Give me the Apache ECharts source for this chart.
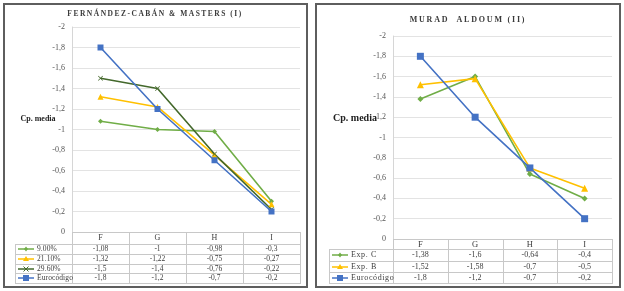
<!DOCTYPE html>
<html>
<head>
<meta charset="utf-8">
<script src="https://cdn.jsdelivr.net/npm/echarts@6/dist/echarts.min.js"></script>
<style>
  body { margin: 0; background: #fff; font-family: "Liberation Serif", serif; }
  #wrap { position: relative; width: 624px; height: 291px; overflow: hidden; }
  .frame { position: absolute; border: 2px solid #5e5e5e; box-sizing: border-box; }
  #chart { position: absolute; left: 0; top: 0; width: 624px; height: 291px; }
  .title { position: absolute; font-weight: bold; color: #3a3a3a; white-space: nowrap; transform: translateX(-50%); }
  .yname { position: absolute; font-weight: bold; color: #222; white-space: nowrap; transform: translate(-50%, -50%); }
  .hl, .vl { position: absolute; background: #c8c8c8; }
  .cell { position: absolute; color: #3c3c3c; text-align: center; white-space: nowrap; }
  .key { position: absolute; color: #3c3c3c; white-space: nowrap; }
  .key svg { position: absolute; left: 0; top: 50%; transform: translateY(-50%); }
</style>
</head>
<body>
<div id="wrap">
  <div class="frame" style="left:3px;top:3px;width:305px;height:285px"></div>
  <div class="frame" style="left:315px;top:3px;width:306px;height:285px"></div>
  <div id="chart"></div>
</div>
<script>
  // categories
  const categories = ['F', 'G', 'H', 'I']

  // left chart (I)
  const leftNames = ['9.00%', '21.10%', '29.60%', 'Eurocódigo']
  const left900 = [-1.08, -1, -0.98, -0.3]
  const left2110 = [-1.32, -1.22, -0.75, -0.27]
  const left2960 = [-1.5, -1.4, -0.76, -0.22]
  const leftEuro = [-1.8, -1.2, -0.7, -0.2]

  // right chart (II)
  const rightNames = ['Exp. C', 'Exp. B', 'Eurocódigo']
  const rightExpC = [-1.38, -1.6, -0.64, -0.4]
  const rightExpB = [-1.52, -1.58, -0.7, -0.5]
  const rightEuro = [-1.8, -1.2, -0.7, -0.2]

  const GREEN = '#70AD47'
  const YELLOW = '#FFC000'
  const DKGREEN = '#43682B'
  const BLUE = '#4472C4'
  const CROSS = 'path://M0,1L1,0L5,4L9,0L10,1L6,5L10,9L9,10L5,6L1,10L0,9L4,5Z'

  const leftSeries = [
    { name: leftNames[0], data: left900, color: GREEN, symbol: 'diamond', size: 5 },
    { name: leftNames[1], data: left2110, color: YELLOW, symbol: 'triangle', size: 6 },
    { name: leftNames[2], data: left2960, color: DKGREEN, symbol: CROSS, size: 5 },
    { name: leftNames[3], data: leftEuro, color: BLUE, symbol: 'rect', size: 6 }
  ]
  const rightSeries = [
    { name: rightNames[0], data: rightExpC, color: GREEN, symbol: 'diamond', size: 6 },
    { name: rightNames[1], data: rightExpB, color: YELLOW, symbol: 'triangle', size: 7 },
    { name: rightNames[2], data: rightEuro, color: BLUE, symbol: 'rect', size: 7 }
  ]

  const fmt = v => String(Math.round(v * 100) / 100).replace('.', ',')

  // plot areas (pixels)
  const L = { left: 72, top: 27, width: 228, height: 205 }
  const R = { left: 393, top: 36, width: 219, height: 203 }

  function yAxisOf(gridIndex) {
    return {
      type: 'value',
      gridIndex: gridIndex,
      inverse: true,
      min: -2,
      max: 0,
      interval: 0.2,
      axisLine: { show: true, lineStyle: { color: '#d6d6d6', width: 1 } },
      axisTick: { show: false },
      splitLine: { lineStyle: { color: '#e3e3e3', width: 1 } },
      axisLabel: {
        fontFamily: 'Liberation Serif',
        fontSize: 8,
        color: '#555',
        margin: 7,
        formatter: v => String(Math.round(v * 10) / 10).replace('.', ',')
      }
    }
  }

  function xAxisOf(gridIndex) {
    return {
      type: 'category',
      gridIndex: gridIndex,
      data: categories,
      boundaryGap: true,
      axisLine: { show: false },
      axisTick: { show: false },
      axisLabel: { show: false },
      splitLine: { show: false }
    }
  }

  function toSeries(s, idx) {
    return {
      name: s.name,
      type: 'line',
      xAxisIndex: idx,
      yAxisIndex: idx,
      data: s.data,
      symbol: s.symbol,
      symbolSize: s.size,
      showSymbol: true,
      animation: false,
      lineStyle: { color: s.color, width: 1.6 },
      itemStyle: { color: s.color }
    }
  }

  const chart = echarts.init(document.getElementById('chart'), null, { renderer: 'canvas' })
  chart.setOption({
    backgroundColor: 'transparent',
    grid: [
      { left: L.left, top: L.top, width: L.width, height: L.height },
      { left: R.left, top: R.top, width: R.width, height: R.height }
    ],
    xAxis: [xAxisOf(0), xAxisOf(1)],
    yAxis: [yAxisOf(0), yAxisOf(1)],
    series: leftSeries.map(s => toSeries(s, 0)).concat(rightSeries.map(s => toSeries(s, 1)))
  })

  // ---- html overlays: titles, axis names, data tables ----
  const wrap = document.getElementById('wrap')

  function add(cls, css, html) {
    const d = document.createElement('div')
    d.className = cls
    Object.assign(d.style, css)
    if (html !== undefined) d.innerHTML = html
    wrap.appendChild(d)
    return d
  }

  add('title', { left: '155px', top: '9px', fontSize: '7.5px', letterSpacing: '1.5px' }, 'FERNÁNDEZ-CABÁN &amp; MASTERS (I)')
  add('title', { left: '468px', top: '15px', fontSize: '8px', letterSpacing: '1.8px' }, 'MURAD&nbsp; ALDOUM (II)')
  add('yname', { left: '38px', top: '118px', fontSize: '8px' }, 'Cp. media')
  add('yname', { left: '355px', top: '117px', fontSize: '10px' }, 'Cp. media')

  function keySvg(s) {
    const w = 16, h = 8, cx = 8, cy = 4
    let m = ''
    if (s.symbol === 'diamond') m = `<polygon points="${cx},${cy - 2.5} ${cx + 2},${cy} ${cx},${cy + 2.5} ${cx - 2},${cy}" fill="${s.color}"/>`
    else if (s.symbol === 'triangle') m = `<polygon points="${cx},${cy - 3} ${cx + 3},${cy + 2} ${cx - 3},${cy + 2}" fill="${s.color}"/>`
    else if (s.symbol === 'rect') m = `<rect x="${cx - 3}" y="${cy - 3}" width="6" height="6" fill="${s.color}"/>`
    else m = `<path d="M${cx - 2.5},${cy - 2.5}L${cx + 2.5},${cy + 2.5}M${cx + 2.5},${cy - 2.5}L${cx - 2.5},${cy + 2.5}" stroke="${s.color}" stroke-width="1"/>`
    return `<svg width="${w}" height="${h}"><line x1="0" y1="${cy}" x2="${w}" y2="${cy}" stroke="${s.color}" stroke-width="1.5"/>${m}</svg>`
  }

  // t: x0 = table left, grid = plot area, rows = y of row boundaries (first = header bottom)
  function buildTable(t) {
    const xL = t.grid.left, xR = t.grid.left + t.grid.width
    const yTop = t.grid.top + t.grid.height
    const yBot = t.rows[t.rows.length - 1]
    const colW = t.grid.width / categories.length
    // header top line (x axis)
    add('hl', { left: xL + 'px', top: yTop + 'px', width: (xR - xL + 1) + 'px', height: '1px' })
    // row lines
    t.rows.forEach(y => add('hl', { left: t.x0 + 'px', top: y + 'px', width: (xR - t.x0 + 1) + 'px', height: '1px' }))
    // vertical lines
    add('vl', { left: t.x0 + 'px', top: t.rows[0] + 'px', width: '1px', height: (yBot - t.rows[0]) + 'px' })
    for (let i = 0; i <= categories.length; i++) {
      add('vl', { left: Math.round(xL + i * colW) + 'px', top: yTop + 'px', width: '1px', height: (yBot - yTop) + 'px' })
    }
    // header labels
    categories.forEach((c, i) => {
      add('cell', { left: (xL + i * colW) + 'px', top: yTop + 'px', width: colW + 'px', height: (t.rows[0] - yTop) + 'px',
        lineHeight: (t.rows[0] - yTop) + 'px', fontSize: t.hfs + 'px' }, c)
    })
    // data rows
    t.series.forEach((s, r) => {
      const y0 = t.rows[r], y1 = t.rows[r + 1], h = y1 - y0
      add('key', { left: (t.x0 + 3) + 'px', top: y0 + 'px', height: h + 'px', lineHeight: h + 'px', fontSize: t.fs + 'px', width: (xL - t.x0 - 3) + 'px' },
        keySvg(s) + `<span style="position:absolute;left:${t.textOff}px;letter-spacing:${t.ls}px">${s.name}</span>`)
      s.data.forEach((v, i) => {
        add('cell', { left: (xL + i * colW) + 'px', top: y0 + 'px', width: colW + 'px', height: h + 'px', lineHeight: h + 'px', fontSize: t.fs + 'px' }, fmt(v))
      })
    })
  }

  buildTable({ x0: 15, grid: L, rows: [244, 254, 264, 273, 283], series: leftSeries, fs: 7.5, hfs: 8, textOff: 19, ls: 0.1 })
  buildTable({ x0: 329, grid: R, rows: [249, 261, 272, 283], series: rightSeries, fs: 8, hfs: 8.5, textOff: 19, ls: 0.6 })
</script>
</body>
</html>
